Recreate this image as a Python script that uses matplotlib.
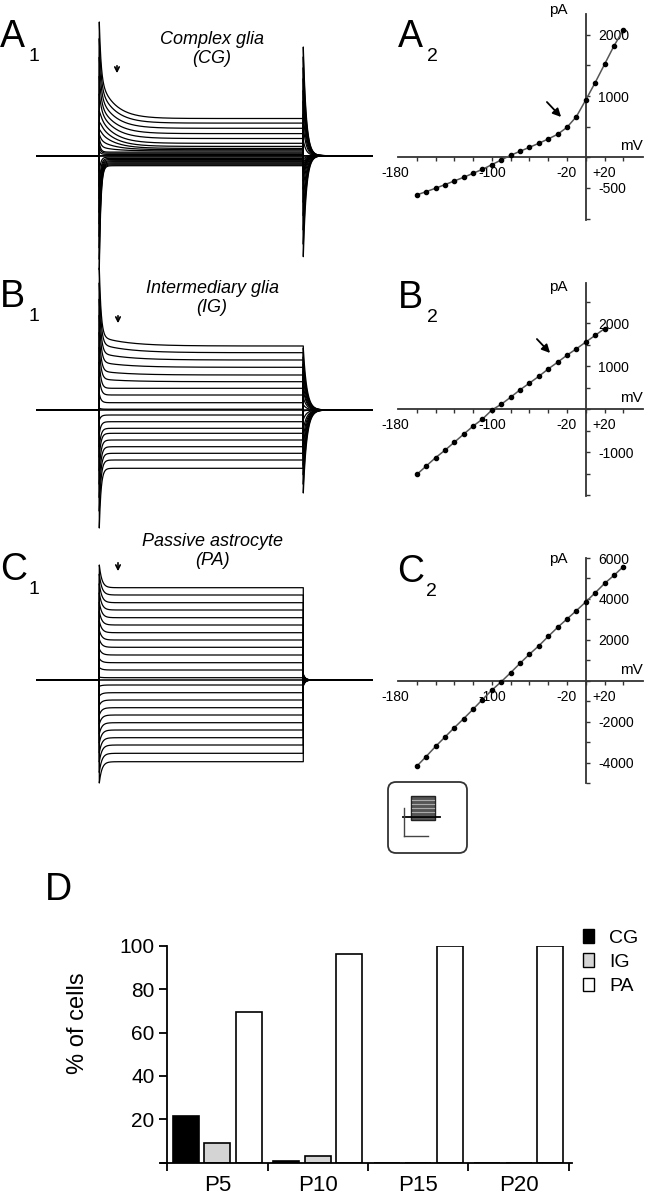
import matplotlib

matplotlib.use("Agg")
import matplotlib.pyplot as plt
import numpy as np
from matplotlib.patches import FancyBboxPatch, Patch, Rectangle
from matplotlib.ticker import FuncFormatter

plt.rcParams["font.family"] = ["Liberation Sans", "DejaVu Sans"]

W, H = 646, 1199

# ---------- I-V curves (mV -> pA) ----------
iv_a_mv = [-180, -170, -160, -150, -140, -130, -120, -110, -100, -90, -80, -70,
           -60, -50, -40, -30, -20, -10, 0, 10, 20, 30, 40]
iv_a_pa = [-614, -560, -505, -446, -386, -326, -261, -196, -120, -43, 33, 98,
           163, 228, 299, 375, 489, 663, 935, 1217, 1516, 1815, 2076]

iv_b_mv = [-180, -170, -160, -150, -140, -130, -120, -110, -100, -90, -80, -70,
           -60, -50, -40, -30, -20, -10, 0, 10, 20]
iv_b_pa = [-1516, -1320, -1125, -953, -766, -578, -391, -227, -16, 117, 281, 453,
           609, 766, 938, 1094, 1258, 1406, 1563, 1719, 1875]

iv_c_mv = [-180, -170, -160, -150, -140, -130, -120, -110, -100, -90, -80, -70,
           -60, -50, -40, -30, -20, -10, 0, 10, 20, 30, 40]
iv_c_pa = [-4180, -3705, -3213, -2754, -2295, -1852, -1393, -918, -459, -49, 393, 852,
           1295, 1705, 2164, 2607, 3016, 3426, 3852, 4295, 4754, 5148, 5574]

# ---------- current traces: steady level and early peak (arbitrary units, up = outward) ----------
cg_level = [-10.0, -9.1, -8.1, -7.1, -6.0, -5.0, -3.8, -2.7, -1.4, 0.0, 1.3, 2.5,
            3.6, 4.8, 6.0, 7.3, 9.3, 12.4, 17.2, 22.1, 27.4, 32.6, 37.2]
cg_peak = [0, 0, 0, 0, 0, 0, 0, 0, 0, 0, 0, 0,
           0, 9.0, 15.7, 24.0, 31.7, 39.0, 45.7, 52.3, 60.0, 68.3, 76.7]

ig_level = [-58.3, -50.0, -43.3, -36.7, -30.0, -23.3, -18.3, -11.7, -5.0, 0.8,
            7.3, 15.0, 21.7, 28.3, 35.0, 42.7, 50.0, 57.3, 64.0]
ig_peak = [0, 0, 0, 0, 0, 0, 0, 0, 0, 0,
           0, 0, 0, 31.0, 39.0, 48.0, 57.0, 66.0, 73.3]

pa_level = [-81.7, -73.3, -65.0, -57.7, -50.0, -42.7, -35.0, -27.7, -20.0, -12.7, -5.0, 2.3,
            10.0, 17.3, 25.0, 32.7, 40.0, 47.3, 55.0, 62.3, 70.0, 77.3, 85.0, 92.3]
pa_peak = [0] * len(pa_level)

# ---------- D: % of cells ----------
ages = ["P5", "P10", "P15", "P20"]
pct_cg = [21.5, 0.9, 0, 0]
pct_ig = [8.9, 3.1, 0, 0]
pct_pa = [69.3, 96.2, 100, 100]

fig = plt.figure(figsize=(W / 100, H / 100), dpi=100)


def px_axes(l, t, r, b):
    ax = fig.add_axes([l / W, 1 - b / H, (r - l) / W, (b - t) / H])
    ax.patch.set_alpha(0)
    return ax


# ============================================================
# Left column: current traces
# ============================================================
T_OFF = 204.0
tt = np.concatenate([np.linspace(-62.3, -0.01, 20),
                     np.linspace(0, T_OFF - 0.01, 3000),
                     np.linspace(T_OFF, 272.7, 2000)])


def traces(top, bot, base, levels, peaks, tau_pk, spk_up, spk_dn, off_up, off_dn, tau_c, tau_d):
    ax = px_axes(37, top, 372, bot)
    ax.set_xlim(-62.3, 272.7)
    ax.set_ylim(base - bot, base - top)
    ax.axis("off")
    lmax, lmin = max(levels), min(levels)
    on = (tt >= 0) & (tt < T_OFF)
    off = tt >= T_OFF
    ts = tt[on]
    to = tt[off] - T_OFF
    for lev, pk in zip(levels, peaks):
        y = np.zeros_like(tt)
        if lev > 0:
            cap = (spk_up - lmax) * lev / lmax
            tail = off_dn * lev / lmax
        else:
            cap = (spk_dn - lmin) * lev / lmin
            tail = off_up * lev / lmin
        early = (pk - lev) if (pk > 0 and pk > lev) else 0.0
        y[on] = (lev + early * np.exp(-ts / tau_pk) * (1 - np.exp(-ts / 1.5))
                 + cap * np.exp(-ts / tau_c))
        y[off] = tail * np.exp(-to / tau_d)
        ax.plot(tt, y, color="k", lw=0.9, clip_on=False)
    ax.plot([-62.3, 272.7], [0, 0], color="k", lw=1.1)
    return ax


traces(10, 282, 155.7, cg_level, cg_peak, 15, 133.7, -114, 108.7, -101, 1.6, 3.0)
traces(262, 535, 410, ig_level, ig_peak, 28, 142, -118, 62, -83, 1.8, 3.5)
traces(540, 790, 680, pa_level, pa_peak, 10, 115, -103, 6, -6, 2.6, 2.0)

# ============================================================
# Right column: I-V curves
# ============================================================


def iv_panel(t, b, ylim, step, labels, v, i, pa_dy):
    ax = px_axes(398, t, 643, b)
    ax.set_xlim(-200, 61)
    ax.set_ylim(ylim)
    for s in ["top", "left"]:
        ax.spines[s].set_visible(False)
    ax.spines["bottom"].set_position(("data", 0))
    ax.spines["right"].set_position(("data", 0))
    for s in ["bottom", "right"]:
        ax.spines[s].set_color("#333333")
        ax.spines[s].set_linewidth(1.3)
    ax.yaxis.set_ticks_position("right")
    ax.xaxis.set_ticks_position("bottom")
    ax.set_xticks(np.arange(-180, 41, 20))
    ax.set_xticklabels([])
    lo = int(np.ceil(ylim[0] / step) * step)
    ax.set_yticks(np.arange(lo, ylim[1] + 1, step))
    ax.yaxis.set_major_formatter(FuncFormatter(lambda val, pos: str(int(val)) if int(val) in labels else ""))
    ax.tick_params(axis="both", length=3, width=1, color="#333333", direction="out",
                   labelsize=10, pad=6)
    ax.plot(v, i, color="#555555", lw=1.1, marker="o", ms=3, mfc="k", mec="k",
            zorder=3, clip_on=False)
    for val, txt, dx in [(-180, "-180", -15.8), (-100, "-100", 0), (-20, "-20", 0), (20, "+20", 0)]:
        ax.annotate(txt, (val, 0), xytext=(dx, -6.5), textcoords="offset points",
                    ha="center", va="top", fontsize=10, zorder=1)
    ax.annotate("mV", (1, 0), xycoords=("axes fraction", "data"), xytext=(0, 3),
                textcoords="offset points", ha="right", va="bottom", fontsize=11)
    ax.annotate("pA", (0, 1), xycoords=("data", "axes fraction"), xytext=(-13, pa_dy),
                textcoords="offset points", ha="right", va="center", fontsize=11)
    return ax


iv_panel(14, 220, (-1023, 2338), 500, [2000, 1000, -500], iv_a_mv, iv_a_pa, 3)
iv_panel(283, 496, (-2016, 2937), 500, [3000, 2000, 1000, -1000], iv_b_mv, iv_b_pa, -3)
iv_panel(558, 783, (-5000, 6000), 1000, [6000, 4000, 2000, -2000, -4000], iv_c_mv, iv_c_pa, -1)

# ============================================================
# D: bar chart
# ============================================================
axd = px_axes(161, 945.7, 572, 1162.7)
x = np.arange(len(ages))
w, d = 0.26, 0.3125
axd.bar(x - d, pct_cg, w, color="black", edgecolor="black", lw=1.2)
axd.bar(x, pct_ig, w, color="#d4d4d4", edgecolor="black", lw=1.2)
axd.bar(x + d, pct_pa, w, color="white", edgecolor="black", lw=1.2)
axd.set_xlim(-0.56, 3.53)
axd.set_ylim(0, 100)
for s in ["top", "right"]:
    axd.spines[s].set_visible(False)
axd.spines["left"].set_position(("data", -0.5))
for s in ["left", "bottom"]:
    axd.spines[s].set_linewidth(1.3)
axd.set_yticks([0, 20, 40, 60, 80, 100])
axd.set_yticklabels(["", "20", "40", "60", "80", "100"])
axd.set_xticks([-0.5, 0.5, 1.5, 2.5, 3.5])
axd.set_xticklabels([])
axd.set_xticks(x, minor=True)
axd.set_xticklabels(ages, minor=True)
axd.tick_params(axis="y", length=6, width=1.3, labelsize=15, pad=3)
axd.tick_params(axis="x", which="major", length=6, width=1.3)
axd.tick_params(axis="x", which="minor", length=0, labelsize=16, pad=9)
fig.text(78 / W, 1 - 1023 / H, "% of cells", rotation=90, ha="center", va="center", fontsize=17)
handles = [Patch(facecolor=c, edgecolor="black", lw=1) for c in ["black", "#d4d4d4", "white"]]
fig.legend(handles, ["CG", "IG", "PA"], loc="upper left", bbox_to_anchor=(583 / W, 1 - 929 / H),
           frameon=False, fontsize=14, handlelength=0.55, handleheight=0.7,
           handletextpad=0.8, labelspacing=0.35, borderpad=0, borderaxespad=0)

# ============================================================
# overlay: letters, titles, arrows, protocol inset
# ============================================================
ov = fig.add_axes([0, 0, 1, 1])
ov.set_xlim(0, W)
ov.set_ylim(H, 0)
ov.axis("off")
ov.patch.set_alpha(0)

for big, sub, bx, by in [("A", "1", 0, 47), ("B", "1", 0, 307), ("C", "1", 0, 580),
                         ("A", "2", 398, 47), ("B", "2", 398, 308), ("C", "2", 397, 582)]:
    ov.text(bx, by, big, fontsize=27, va="baseline", ha="left")
    ov.text(bx + 29, by + 14, sub, fontsize=14, va="baseline", ha="left")
ov.text(45, 900, "D", fontsize=27, va="baseline", ha="left")

for txt, yc in [("Complex glia\n(CG)", 49), ("Intermediary glia\n(IG)", 298), ("Passive astrocyte\n(PA)", 551)]:
    ov.text(212, yc, txt, fontsize=13, style="italic", ha="center", va="center", linespacing=1.1)

for ax_, y0, y1 in [(117, 63, 76), (118, 313, 326), (118, 560, 574)]:
    ov.annotate("", xy=(ax_, y1), xytext=(ax_, y0),
                arrowprops=dict(arrowstyle="->", lw=1.2, color="black", mutation_scale=8))
for p0, p1 in [((545, 100), (563, 119)), ((535, 337), (552, 355))]:
    ov.annotate("", xy=p1, xytext=p0,
                arrowprops=dict(arrowstyle="-|>", lw=1.3, color="black", mutation_scale=12))

ov.add_patch(FancyBboxPatch((388, 782), 79, 71, boxstyle="round,pad=0,rounding_size=8",
                            fc="white", ec="#333333", lw=1.3))
ov.add_patch(Rectangle((411, 796), 24, 24, fc="#555555", ec="#222222", lw=1))
for yy in [800, 804, 808, 812, 816]:
    ov.plot([412, 434], [yy, yy], color="#aaaaaa", lw=0.8)
ov.plot([403, 440], [817, 817], color="black", lw=1.3)
ov.plot([404, 404], [808, 836], color="#444444", lw=1)
ov.plot([404, 428], [836, 836], color="#444444", lw=1)

fig.savefig("out.png", dpi=100)
